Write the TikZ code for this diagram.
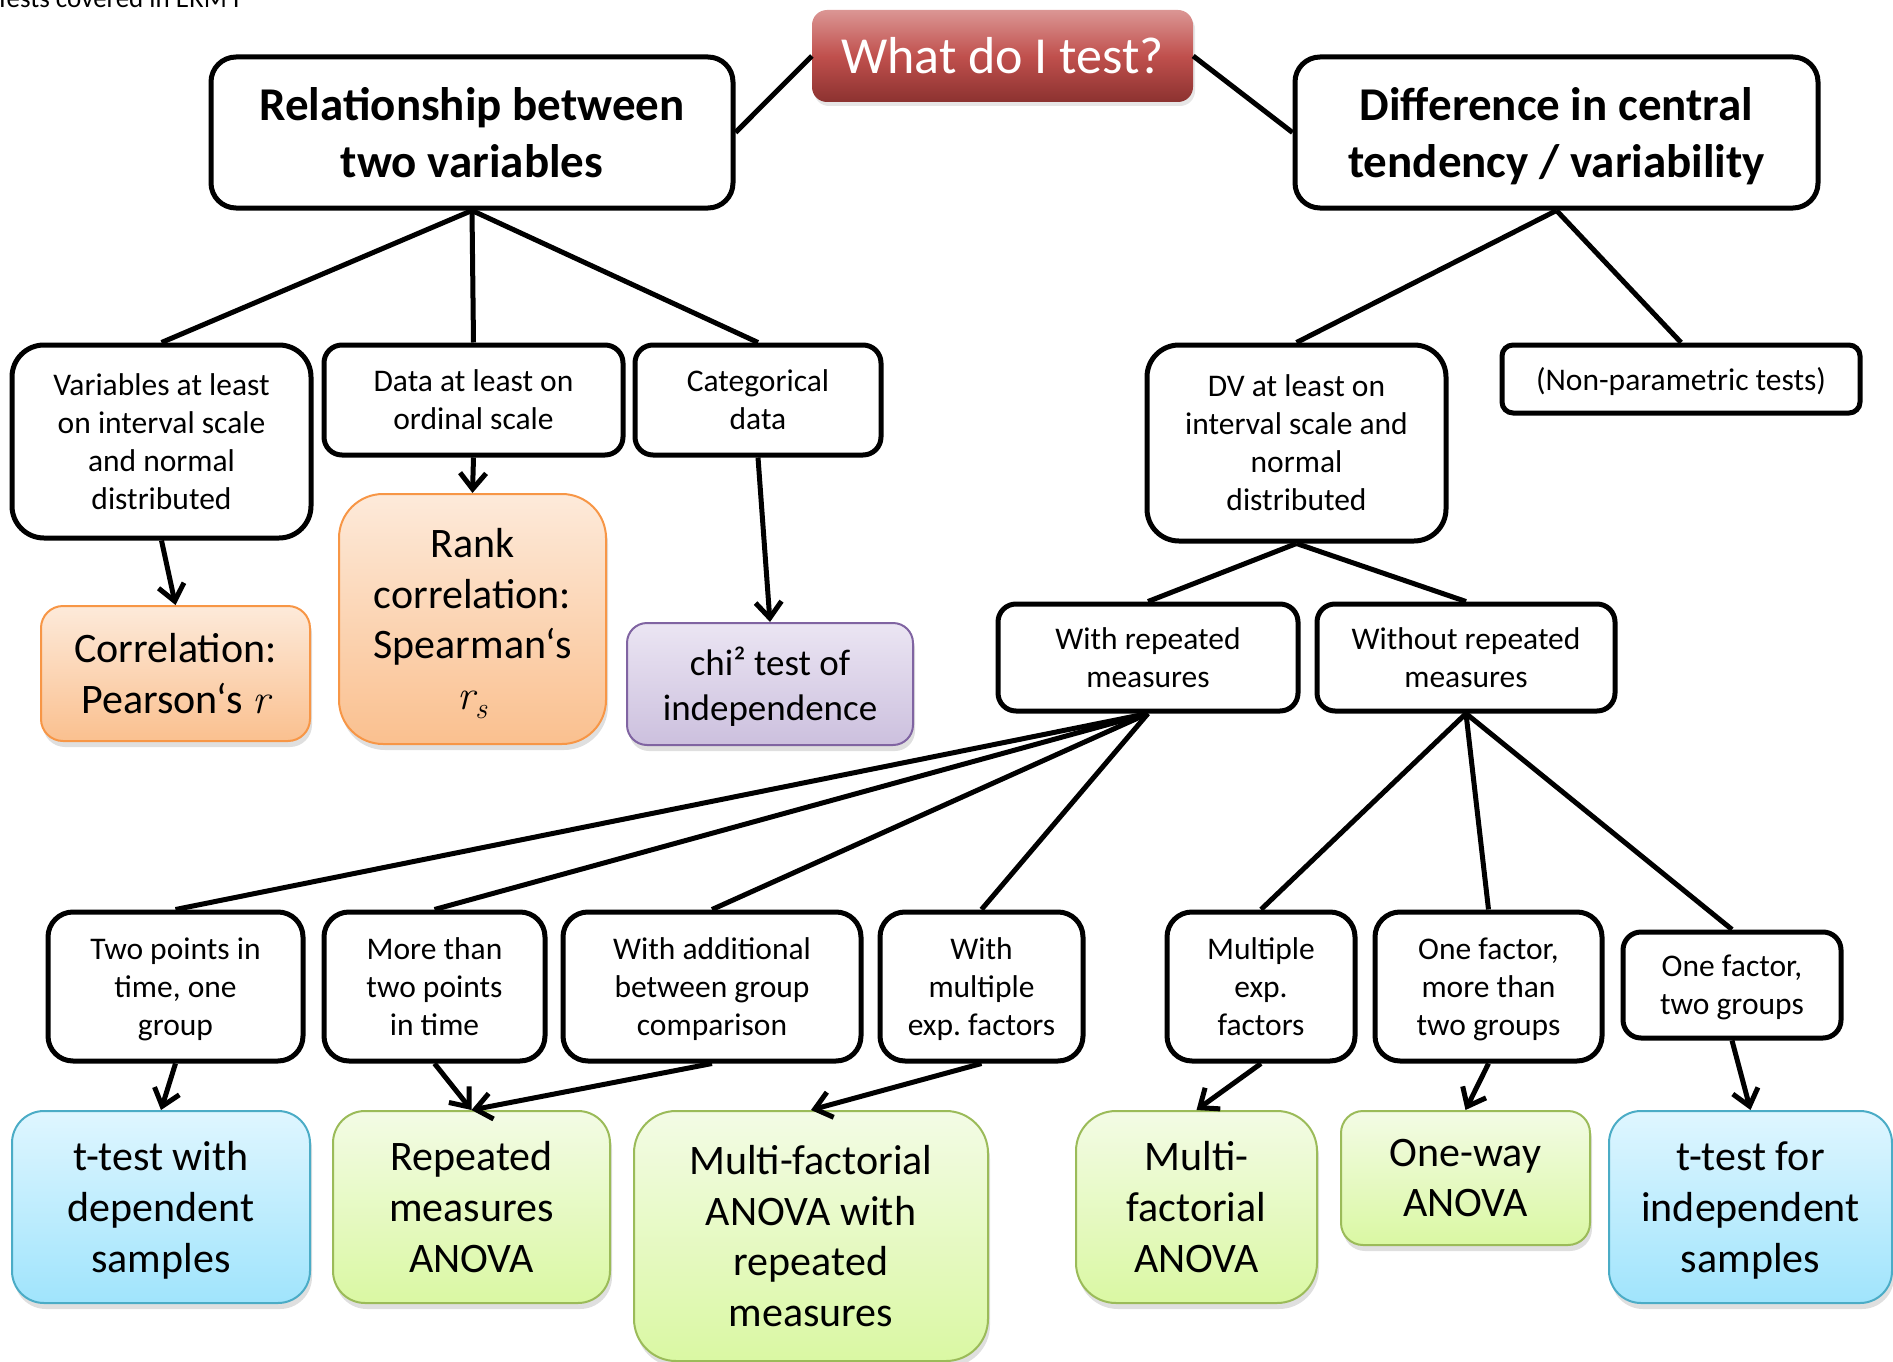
\documentclass[tikz,border=0pt]{standalone}
\usepackage{fontspec}
\setmainfont{Carlito}
\usetikzlibrary{arrows.meta,shadows}
\definecolor{orTop}{RGB}{253,234,218}
\definecolor{orBot}{RGB}{250,192,143}
\definecolor{orBrd}{RGB}{247,150,70}
\definecolor{puTop}{RGB}{235,229,243}
\definecolor{puBot}{RGB}{204,192,222}
\definecolor{puBrd}{RGB}{128,100,162}
\definecolor{grTop}{RGB}{243,251,229}
\definecolor{grBot}{RGB}{218,248,163}
\definecolor{grBrd}{RGB}{155,187,89}
\definecolor{blTop}{RGB}{223,246,255}
\definecolor{blBot}{RGB}{160,228,252}
\definecolor{blBrd}{RGB}{75,172,198}
\definecolor{rdTop}{RGB}{219,150,148}
\definecolor{rdMid}{RGB}{192,80,77}
\definecolor{rdBot}{RGB}{140,50,48}
\newcommand\vr{{\fontfamily{lmr}\selectfont\itshape r}}
\newcommand\vrs{{\fontfamily{lmr}\selectfont\itshape r\raisebox{-0.22em}{\fontsize{30}{30}\selectfont s}}}
\frenchspacing
\begin{document}
\begin{tikzpicture}[x=1pt,y=-1pt,
  wh/.style 2 args={minimum width=#1pt, minimum height=#2pt},
  rc/.style={rounded corners=#1pt},
  box/.style={draw=black, line width=5pt, fill=white, align=center, inner sep=0pt,
    text depth=0pt, font=\fontsize{31.5}{38}\selectfont},
  head/.style={box, font=\fontsize{47}{57}\selectfont\bfseries},
  res/.style={line width=2pt, align=center, inner sep=0pt, text depth=0pt,
    font=\fontsize{42}{50.7}\selectfont,
    drop shadow={shadow xshift=2pt, shadow yshift=-6pt, opacity=0.25}},
  orng/.style={res, draw=orBrd, top color=orTop, bottom color=orBot},
  purp/.style={res, draw=puBrd, top color=puTop, bottom color=puBot},
  gren/.style={res, draw=grBrd, top color=grTop, bottom color=grBot},
  blue/.style={res, draw=blBrd, top color=blTop, bottom color=blBot},
  ttl/.style={align=center, inner sep=0pt, text=white, font=\fontsize{52}{62}\selectfont,
    top color=rdTop, bottom color=rdBot, middle color=rdMid,
    drop shadow={shadow xshift=2pt, shadow yshift=-4pt, opacity=0.2}},
  ln/.style={draw=black, line width=5pt},
  ar/.style={ln, -{Straight Barb[length=16pt,width=26pt]}}
]
\useasboundingbox (0,0) rectangle (1893,1362);

\node[anchor=base east, inner sep=0pt, font=\fontsize{27}{32}\selectfont] (hdr) at (240,8) {Tests covered in ERM I};

\node[ttl, wh={381}{92}, rc=15] (q) at (1002.5,56) {What do I test?};
\node[head, wh={522}{151}, rc=25] (rel) at (472,132.5) {Relationship between\\two variables};
\node[head, wh={523}{151}, rc=25] (dif) at (1556.5,132.5) {Difference in central\\tendency / variability};

\node[box, wh={299}{193}, rc=32] (var) at (161.5,441.5) {Variables at least\\on interval scale\\and normal\\distributed};
\node[box, wh={299}{110}, rc=18] (ord) at (473.5,400) {Data at least on\\ordinal scale};
\node[box, wh={246}{110}, rc=18] (cat) at (758,400) {Categorical\\data};
\node[box, wh={299}{196}, rc=32] (dv) at (1296.5,443) {DV at least on\\interval scale and\\normal\\distributed};
\node[box, wh={358}{68}, rc=11] (np) at (1681,379) {(Non-parametric tests)};

\node[orng, wh={269}{135}, rc=22] (pear) at (175.5,673.5) {Correlation:\\Pearson‘s \vr};
\node[orng, wh={267}{250}, rc=44] (spear) at (472.5,619) {Rank\\correlation:\\Spearman‘s\\\vrs};
\node[purp, wh={286}{122}, rc=20, font=\fontsize{37}{44.7}\selectfont] (chi) at (770,684) {chi² test of\\independence};

\node[box, wh={300}{107}, rc=18] (wr) at (1148,657.5) {With repeated\\measures};
\node[box, wh={298}{107}, rc=18] (wor) at (1466,657.5) {Without repeated\\measures};

\node[box, wh={255}{149}, rc=25] (tp) at (175.5,986.5) {Two points in\\time, one\\group};
\node[box, wh={221}{149}, rc=25] (mt) at (434.5,986.5) {More than\\two points\\in time};
\node[box, wh={298}{149}, rc=25] (wa) at (712,986.5) {With additional\\between group\\comparison};
\node[box, wh={203}{149}, rc=25] (wm) at (981.5,986.5) {With\\multiple\\exp. factors};
\node[box, wh={188}{149}, rc=25] (me) at (1261,986.5) {Multiple\\exp.\\factors};
\node[box, wh={227}{149}, rc=25] (om) at (1488.5,986.5) {One factor,\\more than\\two groups};
\node[box, wh={218}{106}, rc=18] (ot) at (1732,985) {One factor,\\two groups};

\node[blue, wh={298}{192}, rc=32] (td) at (161,1207) {t-test with\\dependent\\samples};
\node[gren, wh={277}{192}, rc=32] (ra) at (471.5,1207) {Repeated\\measures\\ANOVA};
\node[gren, wh={354}{250}, rc=42] (mr) at (811,1236) {Multi-factorial\\ANOVA with\\repeated\\measures};
\node[gren, wh={241}{192}, rc=40] (mf) at (1196.5,1207) {Multi-\\factorial\\ANOVA};
\node[gren, wh={249}{134}, rc=22] (ow) at (1465.5,1178) {One-way\\ANOVA};
\node[blue, wh={283}{192}, rc=32] (ti) at (1750.5,1207) {t-test for\\independent\\samples};

\draw[ln] (q.west) -- (rel.east);
\draw[ln] (q.east) -- (dif.west);
\draw[ln] (rel.south) -- (var.north);
\draw[ln] (rel.south) -- (ord.north);
\draw[ln] (rel.south) -- (cat.north);
\draw[ln] (dif.south) -- (dv.north);
\draw[ln] (dif.south) -- (np.north);
\draw[ar] (var.south) -- (pear.north);
\draw[ar] (ord.south) -- (spear.north);
\draw[ar] (cat.south) -- (chi.north);
\draw[ln] (dv.south) -- (wr.north);
\draw[ln] (dv.south) -- (wor.north);
\draw[ln] (wr.south) -- (tp.north);
\draw[ln] (wr.south) -- (mt.north);
\draw[ln] (wr.south) -- (wa.north);
\draw[ln] (wr.south) -- (wm.north);
\draw[ln] (wor.south) -- (me.north);
\draw[ln] (wor.south) -- (om.north);
\draw[ln] (wor.south) -- (ot.north);
\draw[ar] (tp.south) -- (td.north);
\draw[ar] (mt.south) -- (ra.north);
\draw[ar] (wa.south) -- (ra.north);
\draw[ar] (wm.south) -- (mr.north);
\draw[ar] (me.south) -- (mf.north);
\draw[ar] (om.south) -- (ow.north);
\draw[ar] (ot.south) -- (ti.north);
\end{tikzpicture}
\end{document}
